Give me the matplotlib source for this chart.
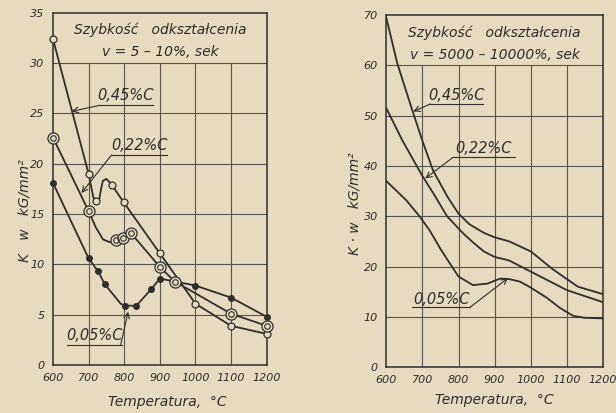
import matplotlib
matplotlib.use("Agg")
import matplotlib.pyplot as plt

paper = "#e6dbbf"
ink = "#2e2e2e"
gridc = "#555555"
plt.rcParams['font.family'] = ['DejaVu Sans']

# ---- left panel: v = 5-10 %/sek ----
# 0.45 %C (open circles)
l45_t = [600, 700, 713, 720, 730, 735, 740, 750, 758, 765, 798, 900, 1000, 1100, 1200]
l45_k = [32.4, 19.0, 16.7, 16.3, 16.5, 17.5, 18.3, 18.5, 18.2, 17.9, 16.2, 11.1, 6.1, 3.9, 3.1]
m45_t = [600, 700, 720, 765, 798, 900, 1000, 1100, 1200]
m45_k = [32.4, 19.0, 16.3, 17.9, 16.2, 11.1, 6.1, 3.9, 3.1]
# 0.22 %C (double circles)
l22_t = [600, 700, 720, 740, 760, 776, 797, 818, 900, 942, 1100, 1200]
l22_k = [22.6, 15.3, 13.7, 12.5, 12.2, 12.4, 12.6, 13.15, 9.75, 8.3, 5.1, 3.9]
m22_t = [600, 700, 776, 797, 818, 900, 942, 1100, 1200]
m22_k = [22.6, 15.3, 12.4, 12.6, 13.15, 9.75, 8.3, 5.1, 3.9]
# 0.05 %C (filled dots)
l05_t = [600, 700, 727, 745, 790, 802, 834, 876, 900, 1000, 1100, 1200]
l05_k = [18.1, 10.6, 9.3, 8.05, 6.1, 5.9, 5.9, 7.55, 8.6, 7.9, 6.7, 4.8]
m05_t = [600, 700, 727, 745, 802, 834, 876, 900, 1000, 1100, 1200]
m05_k = [18.1, 10.6, 9.3, 8.05, 5.9, 5.9, 7.55, 8.6, 7.9, 6.7, 4.8]

# ---- right panel: v = 5000-10000 %/sek ----
r45_t = [600, 630, 670, 700, 730, 770, 800, 830, 870, 900, 940, 1000, 1060, 1130, 1200]
r45_k = [69.5, 60.5, 51.5, 45.0, 39.0, 33.8, 30.5, 28.4, 26.7, 25.8, 25.0, 23.0, 19.5, 16.0, 14.5]
r22_t = [600, 645, 700, 735, 768, 814, 840, 870, 900, 940, 1005, 1100, 1200]
r22_k = [51.5, 45.0, 38.0, 34.0, 30.0, 26.5, 24.8, 23.0, 21.9, 21.2, 18.8, 15.3, 12.9]
r05_t = [600, 655, 692, 720, 750, 777, 800, 840, 880, 915, 940, 970, 1000, 1044, 1080, 1117, 1150, 1200]
r05_k = [37.0, 33.2, 30.0, 27.2, 23.5, 20.5, 18.0, 16.3, 16.6, 17.6, 17.5, 17.0, 15.8, 13.8, 11.8, 10.2, 9.8, 9.7]

xticks = [600, 700, 800, 900, 1000, 1100, 1200]

fig = plt.figure(figsize=(6.16, 4.13), dpi=100)
fig.patch.set_facecolor(paper)
axL = fig.add_axes([0.086, 0.116, 0.347, 0.853])
axR = fig.add_axes([0.627, 0.111, 0.352, 0.853])


def frame(ax, ymax, ystep, vtop):
    ax.set_facecolor(paper)
    ax.set_xlim(600, 1200)
    ax.set_ylim(0, ymax)
    ax.set_xticks(xticks)
    ax.set_yticks(range(0, ymax + 1, ystep))
    for y in range(ystep, ymax, ystep):
        ax.axhline(y, color=gridc, lw=0.8, zorder=1)
    ax.vlines(xticks[1:-1], 0, vtop, color=gridc, lw=0.8, zorder=1)
    for s in ax.spines.values():
        s.set_color(ink)
        s.set_linewidth(1.1)
    ax.tick_params(length=0, pad=6, labelsize=8, colors=ink)
    for lab in ax.get_xticklabels() + ax.get_yticklabels():
        lab.set_fontstyle('italic')


def label(ax, text, tx, ty, u0, u1, uy, tip, start):
    ax.text(tx, ty, text, ha='center', va='center', fontsize=10.5,
            style='italic', color=ink, zorder=5)
    ax.plot([u0, u1], [uy, uy], color=ink, lw=0.8, zorder=5)
    ax.annotate('', xy=tip, xytext=start,
                arrowprops=dict(arrowstyle='->', lw=0.8, color=ink,
                                shrinkA=0, shrinkB=0), zorder=5)


frame(axL, 35, 5, 30)
frame(axR, 70, 10, 60)

# left curves
axL.plot(l45_t, l45_k, color=ink, lw=1.3, zorder=3)
axL.plot(l22_t, l22_k, color=ink, lw=1.3, zorder=3)
axL.plot(l05_t, l05_k, color=ink, lw=1.3, zorder=3)
axL.plot(m45_t, m45_k, 'o', ms=5, mfc=paper, mec=ink, mew=0.9, zorder=4, clip_on=False)
axL.plot(m22_t, m22_k, 'o', ms=8, mfc=paper, mec=ink, mew=0.9, zorder=4, clip_on=False)
axL.plot(m22_t, m22_k, 'o', ms=4, mfc='none', mec=ink, mew=0.8, zorder=4, clip_on=False)
axL.plot(m05_t, m05_k, 'o', ms=4, mfc=ink, mec=ink, zorder=4, clip_on=False)

axL.text(900, 33.3, 'Szybkość   odkształcenia', ha='center', va='center',
         fontsize=10, style='italic', color=ink)
axL.text(900, 31.1, 'v = 5 – 10%, sek', ha='center', va='center',
         fontsize=10, style='italic', color=ink)
label(axL, '0,45%C', 803, 26.8, 726, 880, 25.8, (652, 25.2), (730, 25.8))
label(axL, '0,22%C', 842, 21.8, 765, 919, 20.9, (680, 17.1), (765, 20.9))
label(axL, '0,05%C', 716, 2.9, 639, 793, 2.0, (811, 5.3), (790, 2.0))

# right curves
axR.plot(r45_t, r45_k, color=ink, lw=1.3, zorder=3)
axR.plot(r22_t, r22_k, color=ink, lw=1.3, zorder=3)
axR.plot(r05_t, r05_k, color=ink, lw=1.3, zorder=3)

axR.text(900, 66.4, 'Szybkość   odkształcenia', ha='center', va='center',
         fontsize=10, style='italic', color=ink)
axR.text(900, 62.0, 'v = 5000 – 10000%, sek', ha='center', va='center',
         fontsize=10, style='italic', color=ink)
label(axR, '0,45%C', 795, 53.9, 722, 868, 52.3, (675, 50.8), (722, 52.3))
label(axR, '0,22%C', 870, 43.5, 785, 956, 41.7, (708, 37.5), (785, 41.7))
label(axR, '0,05%C', 752, 13.4, 672, 832, 11.9, (937, 17.7), (832, 11.9))

fig.text(0.04, 0.489, 'K   w   kG/mm²', rotation=90, ha='center', va='center',
         fontsize=10, style='italic', color=ink)
fig.text(0.576, 0.508, 'K · w   kG/mm²', rotation=90, ha='center', va='center',
         fontsize=10, style='italic', color=ink)
fig.text(0.271, 0.027, 'Temperatura,  °C', ha='center', va='center',
         fontsize=10, style='italic', color=ink)
fig.text(0.802, 0.031, 'Temperatura,  °C', ha='center', va='center',
         fontsize=10, style='italic', color=ink)

fig.savefig('out.png', dpi=100, facecolor=paper)
